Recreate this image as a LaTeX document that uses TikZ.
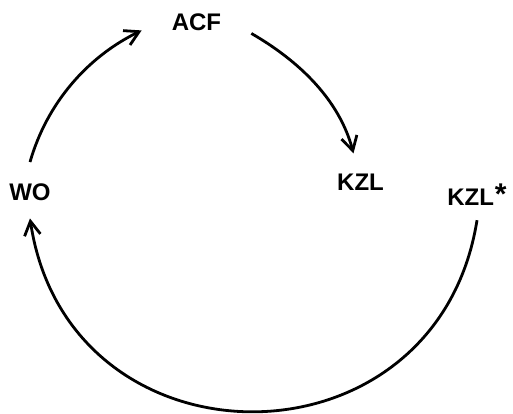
\documentclass[tikz,border=0pt]{standalone}
\usepackage{fontspec}
\setmainfont{Liberation Sans}
\usetikzlibrary{arrows.meta}

\begin{document}
\begin{tikzpicture}[x=1pt,y=1pt,
  lbl/.style={font=\bfseries\fontsize{24}{28}\selectfont, inner sep=0pt, anchor=base},
  cyc/.style={line width=2.8pt, -{Straight Barb[length=14pt,width=16pt]}}]
\useasboundingbox (0,0) rectangle (513,-413);

\node[lbl] (acf) at (196.5,-30) {ACF};
\node[lbl] (wo) at (30,-200) {WO};
\node[lbl] (kzl) at (360.5,-190) {KZL};
\node[lbl] (kzls) at (477,-205) {KZL\kern1pt\raisebox{1pt}{\fontsize{30}{30}\selectfont *}};

% cycle
\draw[cyc] ([yshift=21pt]wo.north) to[out=74,in=206,looseness=0.9] ([xshift=-30pt]acf.south west);
\draw[cyc] ([shift={(30pt,-3pt)}]acf.south east) to[out=-30,in=105,looseness=0.9] ([shift={(-7pt,20pt)}]kzl.north);
\draw[cyc] ([yshift=-15pt]kzls.south) to[out=-99,in=-81.5,looseness=1.48] ([yshift=-18pt]wo.south);

\end{tikzpicture}
\end{document}
